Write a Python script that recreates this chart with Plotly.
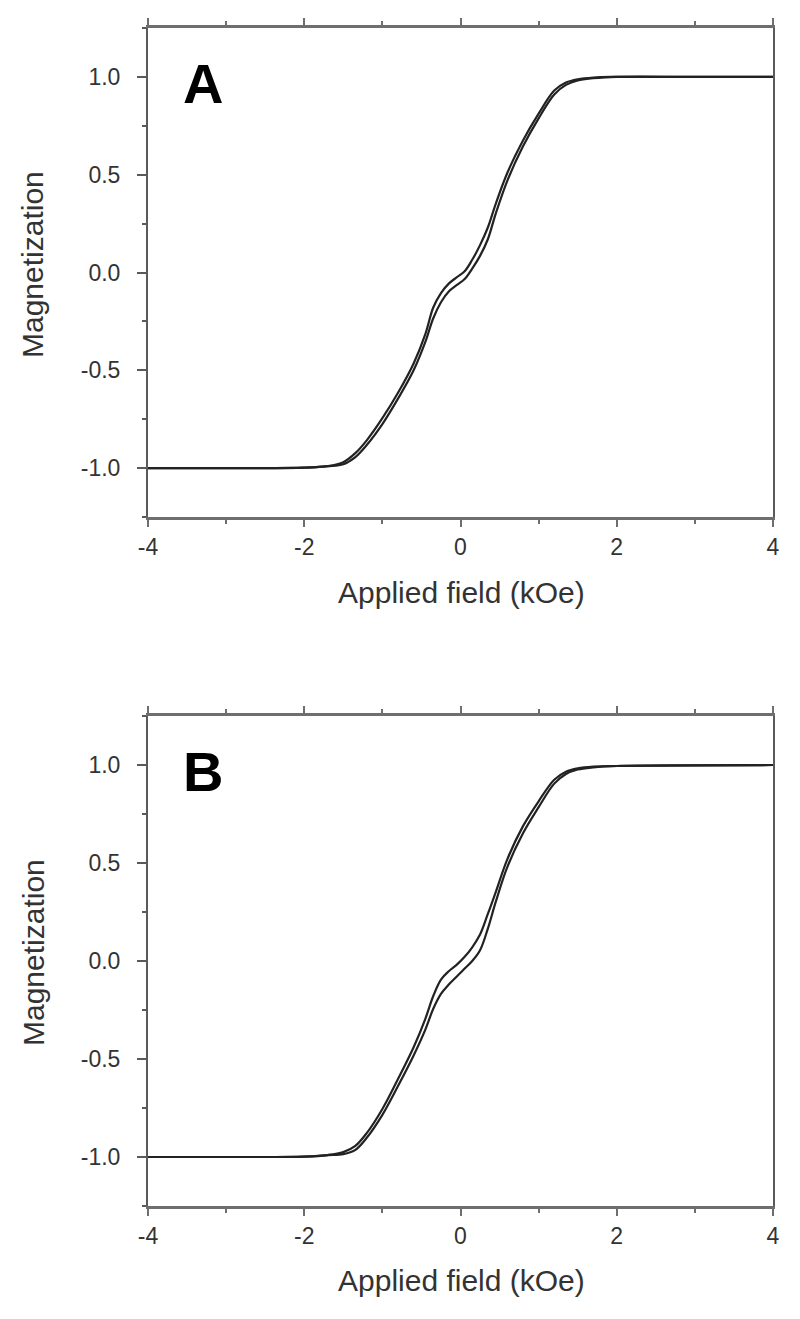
import plotly.graph_objects as go

# ---- data ----
field_kOe = [-4.0, -3.0, -2.0, -1.7, -1.5, -1.35, -1.2, -1.0, -0.8, -0.6, -0.45, -0.35, -0.25, -0.15, -0.05,
             0.05, 0.15, 0.25, 0.35, 0.45, 0.6, 0.8, 1.0, 1.2, 1.35, 1.5, 1.7, 2.0, 3.0, 4.0]

a_up = [-1.0, -1.0, -0.998, -0.99, -0.98, -0.945, -0.882, -0.775, -0.645, -0.50, -0.355, -0.235, -0.152,
        -0.097, -0.065, -0.035, 0.020, 0.085, 0.17, 0.30, 0.47, 0.645, 0.788, 0.91, 0.959, 0.982, 0.993,
        1.0, 1.0, 1.0]
a_down = [-1.0, -1.0, -0.998, -0.99, -0.97, -0.925, -0.858, -0.745, -0.615, -0.465, -0.315, -0.18, -0.105,
          -0.057, -0.025, 0.005, 0.065, 0.14, 0.23, 0.35, 0.51, 0.675, 0.812, 0.93, 0.971, 0.988, 0.997,
          1.0, 1.0, 1.0]

b_up = [-1.0, -1.0, -0.998, -0.99, -0.985, -0.965, -0.902, -0.785, -0.638, -0.482, -0.35, -0.245, -0.168,
        -0.12, -0.08, -0.04, 0.0, 0.055, 0.165, 0.30, 0.48, 0.652, 0.785, 0.905, 0.954, 0.977, 0.988,
        0.995, 0.998, 1.0]
b_down = [-1.0, -1.0, -0.998, -0.99, -0.975, -0.945, -0.878, -0.755, -0.602, -0.44, -0.295, -0.18, -0.095,
          -0.052, -0.02, 0.02, 0.07, 0.135, 0.24, 0.35, 0.52, 0.688, 0.815, 0.925, 0.966, 0.983, 0.992,
          0.995, 0.998, 1.0]

x_ticks = [-4, -2, 0, 2, 4]
y_ticks = [-1.0, -0.5, 0.0, 0.5, 1.0]
panel_labels = ["A", "B"]
x_title = "Applied field (kOe)"
y_title = "Magnetization"

W, H = 800, 1319
FONT = "Liberation Sans, Arial, sans-serif"
AXC = "#5a5a5a"
TXT = "#333333"

fig = go.Figure()
line_style = dict(color="#222222", width=2.2, shape="spline", smoothing=1.0)

fig.add_trace(go.Scatter(x=field_kOe, y=a_up, mode="lines", line=line_style, xaxis="x", yaxis="y", showlegend=False))
fig.add_trace(go.Scatter(x=field_kOe, y=a_down, mode="lines", line=line_style, xaxis="x", yaxis="y", showlegend=False))
fig.add_trace(go.Scatter(x=field_kOe, y=b_up, mode="lines", line=line_style, xaxis="x2", yaxis="y2", showlegend=False))
fig.add_trace(go.Scatter(x=field_kOe, y=b_down, mode="lines", line=line_style, xaxis="x2", yaxis="y2", showlegend=False))

xdom = [148 / W, 773 / W]
ydomA = [1 - 517 / H, 1 - 28 / H]
ydomB = [1 - 1206 / H, 1 - 716 / H]

def xaxis(dom, anchor):
    return dict(domain=dom, anchor=anchor, range=[-4, 4], tickvals=x_ticks, automargin=False,
                ticktext=[str(v) for v in x_ticks],
                showline=True, linecolor="#6e6e6e", linewidth=3, mirror="ticks",
                ticks="outside", ticklen=7, tickwidth=2, tickcolor="#6e6e6e",
                minor=dict(dtick=1, tick0=0, ticks="outside", ticklen=4, tickwidth=1.5, tickcolor="#6e6e6e"),
                showgrid=False, zeroline=False,
                tickfont=dict(family=FONT, size=23, color=TXT))

def yaxis(dom, anchor):
    return dict(domain=dom, anchor=anchor, range=[-1.25, 1.25], tickvals=y_ticks, automargin=False,
                ticktext=["%.1f" % v for v in y_ticks],
                showline=True, linecolor=AXC, linewidth=2, mirror=True,
                ticks="outside", ticklen=9, tickwidth=2, tickcolor=AXC, ticklabelstandoff=12,
                minor=dict(dtick=0.25, tick0=0, ticks="outside", ticklen=4, tickwidth=1.5, tickcolor=AXC),
                showgrid=False, zeroline=False,
                tickfont=dict(family=FONT, size=23, color=TXT))

annotations = []
for lab, ytop, ytitle_c, xtitle_y in [(panel_labels[0], 84, 265, 592), (panel_labels[1], 771, 953, 1280)]:
    annotations.append(dict(text="<b>%s</b>" % lab, x=203 / W, y=1 - ytop / H, xref="paper", yref="paper",
                            xanchor="center", yanchor="middle", showarrow=False,
                            font=dict(family=FONT, size=56, color="#000000")))
    annotations.append(dict(text=x_title, x=461 / W, y=1 - xtitle_y / H, xref="paper", yref="paper",
                            xanchor="center", yanchor="middle", showarrow=False,
                            font=dict(family=FONT, size=30, color=TXT)))
    annotations.append(dict(text=y_title, x=33 / W, y=1 - ytitle_c / H, xref="paper", yref="paper",
                            xanchor="center", yanchor="middle", showarrow=False, textangle=-90,
                            font=dict(family=FONT, size=30, color=TXT)))

fig.update_layout(
    width=W, height=H, autosize=False,
    margin=dict(l=0, r=0, t=0, b=0, pad=0),
    paper_bgcolor="white", plot_bgcolor="white",
    xaxis=xaxis(xdom, "y"), yaxis=yaxis(ydomA, "x"),
    xaxis2=xaxis(xdom, "y2"), yaxis2=yaxis(ydomB, "x2"),
    annotations=annotations,
)

fig.write_html("out.html", config={"displayModeBar": False},
               post_script="document.body.style.margin='0';document.body.style.overflow='hidden';")
